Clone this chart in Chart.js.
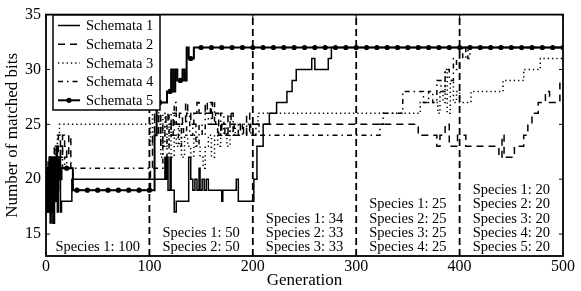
<!DOCTYPE html>
<html>
<head>
<meta charset="utf-8">
<script src="https://cdn.jsdelivr.net/npm/chart.js@4.4.1/dist/chart.umd.min.js"></script>
<style>
  html, body { margin: 0; padding: 0; background: #fff; }
  canvas { display: block; }
</style>
</head>
<body>
<canvas id="chart" width="581" height="291"></canvas>
<script>
// matched bits per generation, as [generation, value] change points (value holds until next point)
const schemata1 = [[0,18],[1,21],[2,17],[3,22],[4,16],[5,20],[6,22],[7,16],[8,21],[9,19],[10,23],[11,17],[12,21],[13,22],[14,17],[15,18],
  [25,20],[115,22],[116,20],[117,22],[118,19],[120,22],[121,19],[124,17],[126,18],[138,22],[140,20],[142,19],[144,20],[146,19],
  [148,21],[149,19],[151,20],[153,19],[155,20],[157,19],[170,18],[171,19],[184,20],[186,18],
  [201,20],[204,23],[210,25],[216,26],[223,27],[233,28],[238,29],[242,30],[257,31],[260,30],[273,31],[276,32],[500,32]];

const schemata2 = [[0,19],[2,22],[4,18],[6,21],[8,23],[10,20],[12,24],[14,22],[16,24],[18,23],[20,22],[22,24],[24,21],[26,19],
  [101,21],[103,24],[105,26],[107,24],[109,26],[111,23],[113,25],[116,26],[118,25],[121,24],[123,26],[126,25],[129,26],[132,25],
  [135,27],[137,26],[140,25],[143,26],[146,27],[148,26],[154,27],[156,26],[159,27],[161,25],[164,26],[167,24],[170,25],[173,24],
  [176,26],[179,25],[182,24],[188,25],[191,24],[194,26],[197,24],[200,25],
  [360,24],[378,23],[381,24],[386,25],[390,23],[398,24],[406,23],[438,22],[441,24],[443,22],[453,23],[462,24],[466,25],
  [470,26],[476,27],[483,28],[487,27],[497,29],[500,29]];

const schemata3 = [[0,18],[3,20],[5,22],[7,21],[9,23],[11,24],[13,25],
  [101,23],[103,26],[105,24],[107,27],[109,25],[111,22],[113,26],[115,24],[117,23],[119,25],[121,22],[124,24],[126,23],[129,25],
  [131,22],[134,24],[137,23],[140,22],[143,24],[146,23],[149,22],[152,21],[154,23],[157,24],[160,22],[163,24],[166,23],[169,25],
  [172,24],[175,23],[178,25],[181,24],[183,25],[205,26],[362,27],[379,26],[381,28],[384,27],[386,30],[388,26],[391,29],[394,27],
  [397,28],[400,27],[411,28],[442,29],[462,30],[478,31],[500,31]];

const schemata4 = [[0,17],[2,19],[4,18],[6,20],[8,19],[10,22],[12,20],[14,23],[16,21],[18,22],[20,21],
  [113,23],[115,25],[117,22],[119,26],[121,24],[124,27],[126,25],[128,23],[131,25],[133,24],[136,26],[139,24],[142,25],[145,23],
  [148,25],[151,24],[154,26],[157,25],[160,27],[163,25],[166,24],[169,26],[172,25],[175,24],[178,26],[181,24],[186,25],[190,24],
  [194,25],[198,24],[203,25],[206,24],[323,25],[326,26],[345,28],[365,27],[370,28],[374,27],[378,29],[382,28],[386,30],[390,29],
  [394,31],[397,30],[400,32],[403,31],[406,32],[408,31],[410,32],[500,32]];

const schemata5 = [[0,20],[1,17],[2,21],[3,18],[4,22],[5,17],[6,21],[7,16],[8,22],[9,18],[10,21],[11,19],[12,22],[13,20],[15,21],
  [26,19],[103,19],[105,24],[107,27],[117,28],[121,30],[123,28],[125,30],[127,29],[132,30],[134,29],[136,32],[138,31],[143,32],[500,32]];

const seriesNames = ['Schemata 1', 'Schemata 2', 'Schemata 3', 'Schemata 4', 'Schemata 5'];
const genTicks = [0, 100, 200, 300, 400, 500];
const bitTicks = [15, 20, 25, 30, 35];
const phaseBreaks = [100, 200, 300, 400];
const speciesCenters = [50, 150, 250, 350, 450];
const speciesText = [
  ['Species 1: 100'],
  ['Species 1: 50', 'Species 2: 50'],
  ['Species 1: 34', 'Species 2: 33', 'Species 3: 33'],
  ['Species 1: 25', 'Species 2: 25', 'Species 3: 25', 'Species 4: 25'],
  ['Species 1: 20', 'Species 2: 20', 'Species 3: 20', 'Species 4: 20', 'Species 5: 20'],
];

const serif = "'Liberation Serif', 'DejaVu Serif', serif";
const dashes = [[], [7, 5], [1.3, 3], [5, 4, 1.5, 4], []];
const widths = [1.5, 1.5, 1.5, 1.5, 2];

// value of a step series at a generation (used for the every-10th marker of schemata 5)
function valueAt(series, g) {
  let v = series[0][1];
  for (const [x, y] of series) { if (x <= g) v = y; }
  return v;
}
const marks5 = [];
for (let g = 0; g <= 500; g += 10) marks5.push([g, valueAt(schemata5, g)]);

const lines = [schemata1, schemata2, schemata3, schemata4, schemata5].map((d, i) => ({
  label: seriesNames[i],
  data: d,
  borderColor: '#000',
  borderWidth: widths[i],
  borderDash: dashes[i],
  stepped: true,
  pointRadius: 0,
  fill: false,
}));

const breakLines = phaseBreaks.map(g => ({
  label: 'break',
  data: [[g, 13], [g, 35]],
  borderColor: '#000',
  borderWidth: 1.8,
  borderDash: [7, 4],
  pointRadius: 0,
}));

const markerSet = {
  label: 'marks',
  data: marks5,
  showLine: false,
  pointRadius: 2.6,
  pointBackgroundColor: '#000',
  pointBorderWidth: 0,
};

// frame, inward ticks, species notes and legend
const decor = {
  id: 'decor',
  afterDatasetsDraw(chart) {
    const { ctx, chartArea: a, scales: { x, y } } = chart;
    ctx.save();
    ctx.strokeStyle = '#000';
    ctx.lineWidth = 1.8;
    ctx.setLineDash([]);
    ctx.strokeRect(a.left, a.top, a.right - a.left, a.bottom - a.top);

    ctx.lineWidth = 1;
    ctx.beginPath();
    genTicks.forEach(v => {
      const px = x.getPixelForValue(v);
      ctx.moveTo(px, a.bottom); ctx.lineTo(px, a.bottom - 4);
      ctx.moveTo(px, a.top); ctx.lineTo(px, a.top + 4);
    });
    bitTicks.forEach(v => {
      const py = y.getPixelForValue(v);
      ctx.moveTo(a.left, py); ctx.lineTo(a.left + 4, py);
      ctx.moveTo(a.right, py); ctx.lineTo(a.right - 4, py);
    });
    ctx.stroke();

    ctx.fillStyle = '#000';
    ctx.font = '14.5px ' + serif;
    ctx.textAlign = 'center';
    ctx.textBaseline = 'alphabetic';
    speciesText.forEach((rows, i) => {
      const cx = x.getPixelForValue(speciesCenters[i]);
      rows.forEach((t, j) => {
        ctx.fillText(t, cx, a.bottom - 5 - (rows.length - 1 - j) * 14.2);
      });
    });

    // legend
    const lx = 53, ly = 15, lw = 107, lh = 95;
    ctx.fillStyle = '#fff';
    ctx.fillRect(lx, ly, lw, lh);
    ctx.lineWidth = 1.5;
    ctx.strokeRect(lx, ly, lw, lh);
    ctx.font = '14.5px ' + serif;
    ctx.textAlign = 'left';
    ctx.textBaseline = 'middle';
    seriesNames.forEach((name, i) => {
      const ry = ly + 10.5 + i * 18.7;
      ctx.strokeStyle = '#000';
      ctx.lineWidth = widths[i];
      ctx.setLineDash(dashes[i]);
      ctx.beginPath();
      ctx.moveTo(lx + 5, ry); ctx.lineTo(lx + 27, ry);
      ctx.stroke();
      ctx.setLineDash([]);
      if (i === 4) {
        ctx.fillStyle = '#000';
        ctx.beginPath();
        ctx.arc(lx + 16, ry, 2.6, 0, Math.PI * 2);
        ctx.fill();
      }
      ctx.fillStyle = '#000';
      ctx.fillText(name, lx + 33, ry + 1);
    });
    ctx.restore();
  }
};

new Chart(document.getElementById('chart'), {
  type: 'line',
  data: { datasets: [...breakLines, ...lines, markerSet] },
  options: {
    responsive: false,
    animation: false,
    devicePixelRatio: 1,
    layout: { padding: { top: 8, right: 18, left: 0, bottom: 0 } },
    plugins: { legend: { display: false }, tooltip: { enabled: false } },
    scales: {
      x: {
        type: 'linear', min: 0, max: 500,
        afterBuildTicks: s => { s.ticks = genTicks.map(v => ({ value: v })); },
        afterFit: s => { s.height = 35; },
        grid: { display: false, drawTicks: false },
        border: { display: false },
        ticks: { color: '#000', font: { family: serif, size: 16 }, padding: 1, maxRotation: 0, autoSkip: false },
        title: { display: true, text: 'Generation', color: '#000', font: { family: serif, size: 17 }, padding: 0 },
      },
      y: {
        type: 'linear', min: 13, max: 35,
        afterBuildTicks: s => { s.ticks = bitTicks.map(v => ({ value: v })); },
        afterFit: s => { s.width = 46; },
        grid: { display: false, drawTicks: false },
        border: { display: false },
        ticks: { color: '#000', font: { family: serif, size: 16 }, padding: 5, autoSkip: false },
        title: { display: true, text: 'Number of matched bits', color: '#000', font: { family: serif, size: 17 }, padding: 2 },
      },
    },
  },
  plugins: [decor],
});
</script>
</body>
</html>
